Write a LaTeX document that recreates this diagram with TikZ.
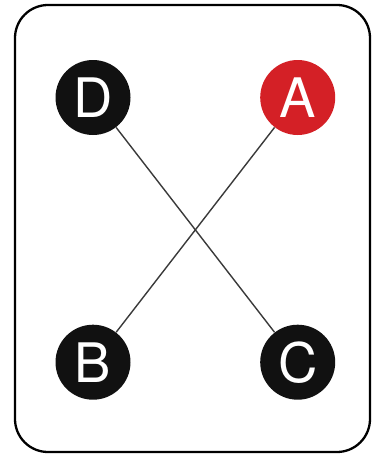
\documentclass[tikz,border=0pt]{standalone}
\usepackage{fontspec}
\setmainfont{TeX Gyre Heros}
\usepackage{tikz}
\usetikzlibrary{positioning}

\definecolor{nodered}{HTML}{D42026}
\definecolor{nodeblack}{HTML}{111111}
\definecolor{linegray}{HTML}{3A3A3A}

\begin{document}
\begin{tikzpicture}[
  node distance=3.78cm and 2.58cm,
  mynode/.style={circle,fill=nodeblack,text=white,minimum size=1.5cm,inner sep=0pt,font=\fontsize{31}{31}\selectfont},
  mynoder/.style={mynode,fill=nodered},
  myline/.style={draw=linegray,line width=0.8pt}
]
\useasboundingbox (0,0) rectangle (7.48,-9.12);
\draw[line width=1.3pt,rounded corners=0.66cm] (0.3,-0.1) rectangle (7.4,-9.04);

\node[mynode] (d) at (1.86,-1.95) {D};
\node[mynoder,right=of d] (a) {A};
\node[mynode,below=of d] (b) {B};
\node[mynode,right=of b] (c) {C};

\path (d) edge[myline] (c)
(a) edge[myline] (b);
\end{tikzpicture}
\end{document}
